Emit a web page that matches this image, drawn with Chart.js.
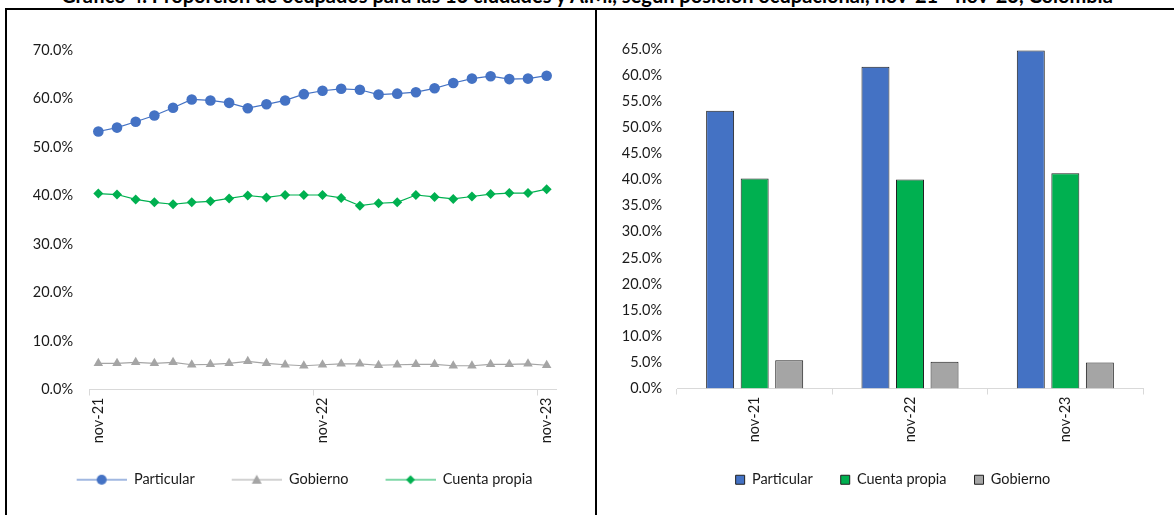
<!DOCTYPE html>
<html>
<head>
<meta charset="utf-8">
<script src="https://cdn.jsdelivr.net/npm/chart.js@4/dist/chart.umd.min.js"></script>
<style>
  body { margin: 0; background: #fff; width: 1174px; height: 515px; overflow: hidden; position: relative; font-family: Lato, sans-serif; }
  #titulo { position: absolute; left: 0; top: -15px; width: 1174px; text-align: center; font-weight: bold; font-size: 20px; line-height: 20px; white-space: nowrap; color: #000; }
  #marco { position: absolute; left: 5px; top: 8px; width: 1180px; height: 520px; border-left: 2px solid #000; border-top: 2px solid #000; background: #fff; }
  #divisor { position: absolute; left: 595px; top: 8px; width: 2px; height: 515px; background: #000; }
  #izq { position: absolute; left: 7px; top: 10px; }
  #der { position: absolute; left: 597px; top: 10px; }
</style>
</head>
<body>
<div id="titulo">Gráfico 4. Proporción de ocupados para las 13 ciudades y A.M., según posición ocupacional, nov-21 - nov-23, Colombia</div>
<div id="marco"></div>
<div id="divisor"></div>
<div id="izq"><canvas id="lineChart" width="588" height="505"></canvas></div>
<div id="der"><canvas id="barChart" width="577" height="505"></canvas></div>
<script>
// meses de la serie mensual
var meses = ['nov-21', 'dic-21', 'ene-22', 'feb-22', 'mar-22', 'abr-22', 'may-22', 'jun-22', 'jul-22',
    'ago-22', 'sep-22', 'oct-22', 'nov-22', 'dic-22', 'ene-23', 'feb-23', 'mar-23', 'abr-23',
    'may-23', 'jun-23', 'jul-23', 'ago-23', 'sep-23', 'oct-23', 'nov-23'];

var particular = [53.2, 54.0, 55.2, 56.5, 58.1, 59.8, 59.6, 59.1, 58.0, 58.8, 59.6, 60.9, 61.6,
    62.0, 61.8, 60.8, 61.0, 61.3, 62.1, 63.2, 64.1, 64.6, 64.0, 64.1, 64.7];
var gobierno = [5.4, 5.4, 5.6, 5.4, 5.6, 5.1, 5.2, 5.4, 5.8, 5.4, 5.1, 4.9, 5.1,
    5.3, 5.3, 5.0, 5.1, 5.2, 5.2, 4.9, 4.9, 5.2, 5.2, 5.3, 5.0];
var cuentaPropia = [40.4, 40.2, 39.2, 38.6, 38.2, 38.6, 38.8, 39.4, 40.0, 39.6, 40.1, 40.1, 40.1,
    39.5, 37.9, 38.4, 38.6, 40.1, 39.7, 39.3, 39.8, 40.3, 40.5, 40.5, 41.3];

// comparativo anual (barras)
var anios = ['nov-21', 'nov-22', 'nov-23'];
var barParticular = [53.2, 61.6, 64.7];
var barCuentaPropia = [40.2, 40.0, 41.2];
var barGobierno = [5.4, 5.1, 5.0];

// etiquetas visibles del eje x mensual
var etiquetasVisibles = ['nov-21', 'nov-22', 'nov-23'];

var azul = '#4472C4';
var verde = '#00B050';
var gris = '#A5A5A5';
var fuente = { family: 'Lato', size: 14.5 };
var colorTexto = '#1a1a1a';

function pct(v) {
    return v.toFixed(1) + '%';
}

// corre la leyenda en horizontal despues del layout
var moverLeyenda = {
    id: 'moverLeyenda',
    afterLayout: function (chart, args, opts) {
        var l = chart.legend;
        if (l && opts.dx) {
            l.left += opts.dx;
            l.right += opts.dx;
        }
    }
};

// icono de leyenda: linea con marcador, como en Excel (10px vacios a la izquierda)
function iconoLinea(color, estilo) {
    var c = document.createElement('canvas');
    c.width = 60;
    c.height = 12;
    var ctx = c.getContext('2d');
    ctx.strokeStyle = color;
    ctx.lineWidth = 1.2;
    ctx.beginPath();
    ctx.moveTo(10, 6);
    ctx.lineTo(60, 6);
    ctx.stroke();
    ctx.fillStyle = color;
    ctx.beginPath();
    if (estilo === 'circle') {
        ctx.arc(35, 6, 5, 0, Math.PI * 2);
    } else if (estilo === 'triangle') {
        ctx.moveTo(35, 1);
        ctx.lineTo(40, 10);
        ctx.lineTo(30, 10);
    } else {
        ctx.moveTo(35, 1.5);
        ctx.lineTo(39.5, 6);
        ctx.lineTo(35, 10.5);
        ctx.lineTo(30.5, 6);
    }
    ctx.closePath();
    ctx.fill();
    return c;
}

var estilos = ['circle', 'triangle', 'rectRot'];
var colores = [azul, gris, verde];

new Chart(document.getElementById('lineChart'), {
    type: 'line',
    data: {
        labels: meses,
        datasets: [{
            label: 'Particular',
            data: particular,
            borderColor: azul,
            backgroundColor: azul,
            borderWidth: 1.2,
            pointStyle: 'circle',
            pointRadius: 5.3,
            pointBorderWidth: 0
        }, {
            label: 'Gobierno',
            data: gobierno,
            borderColor: gris,
            backgroundColor: gris,
            borderWidth: 1.2,
            pointStyle: 'triangle',
            pointRadius: 5.5,
            pointBorderWidth: 0
        }, {
            label: 'Cuenta propia',
            data: cuentaPropia,
            borderColor: verde,
            backgroundColor: verde,
            borderWidth: 1.2,
            pointStyle: 'rectRot',
            pointRadius: 5,
            pointBorderWidth: 0
        }]
    },
    plugins: [moverLeyenda],
    options: {
        responsive: false,
        animation: false,
        layout: { padding: { top: 40, right: 39, left: 0, bottom: 18 } },
        scales: {
            x: {
                offset: true,
                grid: {
                    offset: true,
                    drawOnChartArea: false,
                    tickLength: 6,
                    color: function (c) {
                        return (c.index === 0 || c.index === 12 || c.index === 24) ? '#d9d9d9' : 'rgba(0,0,0,0)';
                    }
                },
                border: { color: '#d9d9d9' },
                ticks: {
                    autoSkip: false,
                    maxRotation: 90,
                    minRotation: 90,
                    padding: 2,
                    font: fuente,
                    color: colorTexto,
                    callback: function (v, i) {
                        var m = meses[i];
                        return etiquetasVisibles.indexOf(m) >= 0 ? m : '';
                    }
                },
                afterFit: function (s) { s.height = 56; }
            },
            y: {
                min: 0,
                max: 70,
                grid: { display: false, drawTicks: false },
                border: { display: false },
                ticks: { stepSize: 10, padding: 16, font: fuente, color: colorTexto, callback: pct },
                afterFit: function (s) { s.width = 82; }
            }
        },
        plugins: {
            moverLeyenda: { dx: 18 },
            legend: {
                position: 'bottom',
                labels: {
                    usePointStyle: true,
                    pointStyleWidth: 60,
                    padding: 27,
                    font: fuente,
                    color: colorTexto,
                    generateLabels: function (chart) {
                        return chart.data.datasets.map(function (ds, i) {
                            return {
                                text: ds.label,
                                pointStyle: iconoLinea(colores[i], estilos[i]),
                                fontColor: colorTexto,
                                datasetIndex: i,
                                lineWidth: 0,
                                strokeStyle: 'rgba(0,0,0,0)',
                                fillStyle: 'rgba(0,0,0,0)'
                            };
                        });
                    }
                }
            },
            tooltip: { enabled: false }
        }
    }
});

new Chart(document.getElementById('barChart'), {
    type: 'bar',
    data: {
        labels: anios,
        datasets: [{
            label: 'Particular',
            data: barParticular,
            backgroundColor: azul,
            borderColor: '#1f1f1f',
            borderWidth: 1
        }, {
            label: 'Cuenta propia',
            data: barCuentaPropia,
            backgroundColor: verde,
            borderColor: '#1f1f1f',
            borderWidth: 1
        }, {
            label: 'Gobierno',
            data: barGobierno,
            backgroundColor: gris,
            borderColor: '#1f1f1f',
            borderWidth: 1
        }]
    },
    plugins: [moverLeyenda],
    options: {
        responsive: false,
        animation: false,
        categoryPercentage: 0.667,
        barPercentage: 0.81,
        layout: { padding: { top: 39, right: 31, left: 0, bottom: 18 } },
        scales: {
            x: {
                grid: { drawOnChartArea: false, tickLength: 6, color: '#d9d9d9' },
                border: { color: '#d9d9d9' },
                ticks: { maxRotation: 90, minRotation: 90, padding: 2, font: fuente, color: colorTexto },
                afterFit: function (s) { s.height = 56; }
            },
            y: {
                min: 0,
                max: 65,
                grid: { display: false, drawTicks: false },
                border: { display: false },
                ticks: { stepSize: 5, padding: 15, font: fuente, color: colorTexto, callback: pct },
                afterFit: function (s) { s.width = 80; }
            }
        },
        plugins: {
            moverLeyenda: { dx: 23 },
            legend: {
                position: 'bottom',
                labels: {
                    boxWidth: 9,
                    boxHeight: 9,
                    padding: 28,
                    font: fuente,
                    color: colorTexto
                }
            },
            tooltip: { enabled: false }
        }
    }
});
</script>
</body>
</html>
